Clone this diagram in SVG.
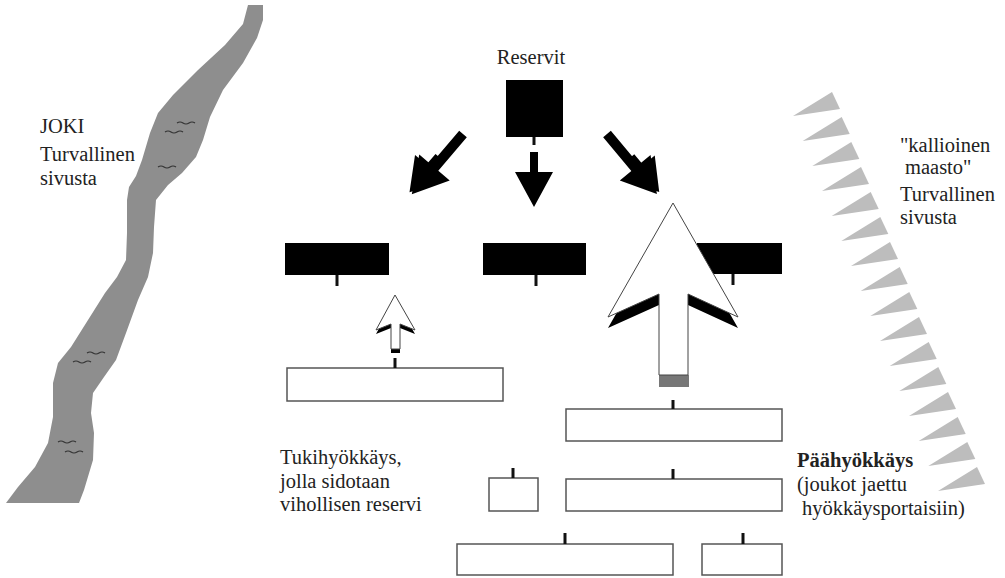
<svg xmlns="http://www.w3.org/2000/svg" width="1005" height="578" viewBox="0 0 1005 578" font-family="'Liberation Serif', 'DejaVu Serif', serif">
<style>
text{font-family:'Liberation Serif','DejaVu Serif',serif;font-size:20.5px;fill:#222}
.b{font-weight:bold}
.blk{fill:#000}
.wr{fill:#fff;stroke:#555;stroke-width:1.5}
.stem{stroke:#111;stroke-width:3}
.tri{fill:#bdbdbd}
.wave{fill:none;stroke:#333;stroke-width:1.2}
</style>
<rect width="1005" height="578" fill="#fff"/>
<g id="river">
<path fill="#8e8e8e" d="M248,5 L243,24 L225,45 L198,70 L173,95 L158,113 L150,133 L142,160 L136,176 L129,187 L127,200 L127,233 L126,260 L117,277 L105,293 L88,320 L71,347 L58,363 L53,383 L53,417 L48,443 L35,467 L18,487 L6,503 L79,503 L84,490 L93,460 L94,433 L91,413 L93,393 L104,377 L116,360 L126,333 L138,300 L148,277 L153,253 L154,227 L156,200 L168,185 L182,173 L196,157 L203,140 L210,117 L223,90 L243,63 L257,38 L263,20 L263,5 Z"/>
<path class="wave" d="M177,123 q3,-2 6,0 t6,0 t6,0"/>
<path class="wave" d="M165,132 q3,-2 6,0 t6,0 t6,0"/>
<path class="wave" d="M158,167 q3,-2 6,0 t6,0 t6,0"/>
<path class="wave" d="M87,353 q3,-2 6,0 t6,0 t6,0"/>
<path class="wave" d="M73,362 q3,-2 6,0 t6,0 t6,0"/>
<path class="wave" d="M58,442 q3,-2 6,0 t6,0 t6,0"/>
<path class="wave" d="M65,452 q3,-2 6,0 t6,0 t6,0"/>
</g>
<g id="label-joki">
<text x="40" y="133">JOKI</text>
<text x="40" y="161">Turvallinen</text>
<text x="40" y="185">sivusta</text>
</g>
<g id="rocky">
<polygon class="tri" points="832,92 840,109 793,116"/>
<polygon class="tri" points="841.7,117 849.7,134 802.7,141"/>
<polygon class="tri" points="851.3,142 859.3,159 812.3,166"/>
<polygon class="tri" points="861,167 869,184 822,191"/>
<polygon class="tri" points="870.7,192 878.7,209 831.7,216"/>
<polygon class="tri" points="880.3,217 888.3,234 841.3,241"/>
<polygon class="tri" points="890,242 898,259 851,266"/>
<polygon class="tri" points="899.7,267 907.7,284 860.7,291"/>
<polygon class="tri" points="909.3,292 917.3,309 870.3,316"/>
<polygon class="tri" points="919,317 927,334 880,341"/>
<polygon class="tri" points="928.7,342 936.7,359 889.7,366"/>
<polygon class="tri" points="938.3,367 946.3,384 899.3,391"/>
<polygon class="tri" points="948,392 956,409 909,416"/>
<polygon class="tri" points="957.7,417 965.7,434 918.7,441"/>
<polygon class="tri" points="967.3,442 975.3,459 928.3,466"/>
<polygon class="tri" points="977,467 985,484 938,491"/>
</g>
<g id="label-rocky">
<text x="900" y="152">"kallioinen</text>
<text x="905" y="174">maasto"</text>
<text x="900" y="201">Turvallinen</text>
<text x="900" y="224">sivusta</text>
</g>
<g id="reserves">
<text x="531" y="64" text-anchor="middle">Reservit</text>
<rect class="blk" x="506" y="80" width="57" height="57"/>
<line class="stem" x1="534" y1="137" x2="534" y2="145"/>
</g>
<g id="enemy-left">
<rect class="blk" x="285" y="243" width="104" height="32"/>
<line class="stem" x1="337" y1="275" x2="337" y2="286"/>
</g>
<g id="enemy-mid">
<rect class="blk" x="483" y="243" width="103" height="32"/>
<line class="stem" x1="536" y1="275" x2="536" y2="286"/>
</g>
<g id="enemy-right">
<rect class="blk" x="697" y="243" width="85" height="31"/>
<line class="stem" x1="733" y1="274" x2="733" y2="285"/>
</g>
<g id="support-unit">
<rect class="wr" x="287" y="368" width="216" height="33"/>
<line class="stem" x1="395" y1="358" x2="395" y2="368"/>
</g>
<g id="main-1">
<rect class="wr" x="566" y="409" width="216" height="32"/>
<line class="stem" x1="673" y1="400" x2="673" y2="409"/>
</g>
<g id="main-2">
<rect class="wr" x="566" y="479" width="216" height="32"/>
<line class="stem" x1="673" y1="469" x2="673" y2="479"/>
</g>
<g id="small-unit">
<rect class="wr" x="489" y="478" width="49" height="33"/>
<line class="stem" x1="513" y1="468" x2="513" y2="478"/>
</g>
<g id="main-3a">
<rect class="wr" x="457" y="544" width="216" height="31"/>
<line class="stem" x1="565" y1="533" x2="565" y2="544"/>
</g>
<g id="main-3b">
<rect class="wr" x="702" y="544" width="80" height="31"/>
<line class="stem" x1="743" y1="533" x2="743" y2="544"/>
</g>
<g id="label-support">
<text x="280" y="464">Tukihyökkäys,</text>
<text x="280" y="488">jolla sidotaan</text>
<text x="280" y="511">vihollisen reservi</text>
</g>
<g id="label-main">
<text class="b" x="797" y="467">Päähyökkäys</text>
<text x="797" y="491">(joukot jaettu</text>
<text x="802" y="515">hyökkäysportaisiin)</text>
</g>
<g id="connectors">
<g class="blk">
<g transform="translate(463,134) rotate(130.4)">
<polygon points="0,-5 44,-5 44,-20 79,0 44,20 44,5 0,5"/>
<polygon transform="translate(3,3)" points="30,-5 44,-5 44,-20 76,0 44,20 44,5 30,5"/>
</g>
<polygon points="530,152 538,152 538,172 553,172 534,207 515,172 530,172"/>
<g transform="translate(607,134) rotate(50.2)">
<polygon points="0,-5 44,-5 44,-20 78,0 44,20 44,5 0,5"/>
<polygon transform="translate(3,-3)" points="30,-5 44,-5 44,-20 75,0 44,20 44,5 30,5"/>
</g>
</g>
<polygon class="blk" points="395,299 415,334 400,328 400,353 391,353 391,328 376,334"/>
<polygon fill="#fff" stroke="#444" stroke-width="1" points="395,295 415,330 400,324 400,349 391,349 391,324 376,330"/>
<polygon class="blk" points="673,214 738,328 688,305 688,386 659,386 659,305 608,328"/>
<rect x="659" y="375" width="30" height="12" fill="#777"/>
<polygon fill="#fff" stroke="#444" stroke-width="1" points="673,203 738,317 688,294 688,375 659,375 659,294 608,317"/>
</g>
</svg>
